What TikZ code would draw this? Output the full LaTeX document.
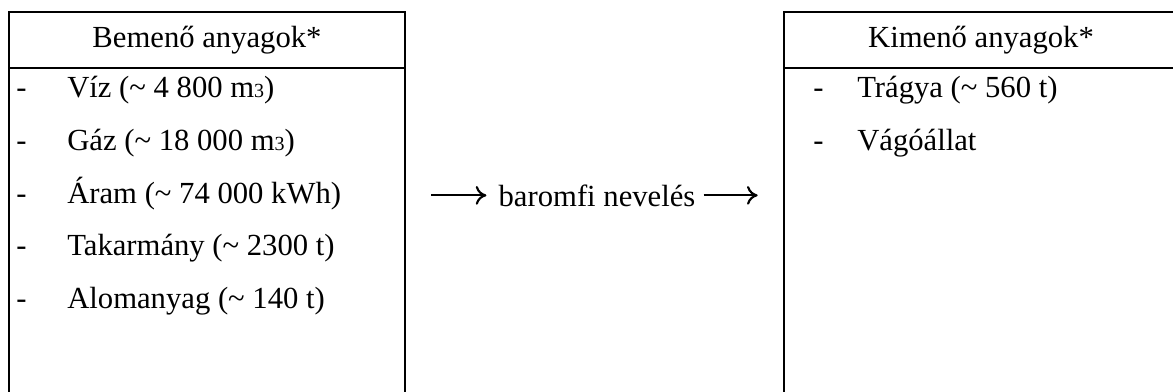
\documentclass[tikz,border=0pt]{standalone}
\usepackage{fontspec}
\setmainfont{Liberation Serif}
\usetikzlibrary{positioning,arrows.meta}
\newcommand\kicsi[1]{{\fontsize{15}{15}\selectfont #1}}
\tikzset{
  box/.style={draw,line width=1.5pt,inner sep=0pt},
  item/.style={anchor=base west,inner sep=0pt},
  flow/.style={-{To[length=8pt,width=14pt]},line width=1.6pt}
}
\begin{document}
\begin{tikzpicture}[x=0.75pt,y=-0.75pt,font=\fontsize{23}{27}\selectfont]
\useasboundingbox (0,0) rectangle (1173,392);
\clip (0,0) rectangle (1173,392);
% boxes
\node[box,minimum width=297pt,minimum height=306pt] (inbox) at (207,216) {};
\node[box,minimum width=304.5pt,minimum height=306pt] (outbox) at (987,216) {};
\draw[line width=1.5pt] (inbox.west |- 0,68) -- (inbox.east |- 0,68);
\draw[line width=1.5pt] (outbox.west |- 0,68) -- (outbox.east |- 0,68);
\node[anchor=base] (inhead) at (207,48) {Bemenő anyagok*};
\node[anchor=base] (outhead) at (981,48) {Kimenő anyagok*};
% items
\foreach \t [count=\i] in {{Víz (\textasciitilde{} 4 800 m\kicsi{3})},
  {Gáz (\textasciitilde{} 18 000 m\kicsi{3})},
  {Áram (\textasciitilde{} 74 000 kWh)},
  {Takarmány (\textasciitilde{} 2300 t)},
  {Alomanyag (\textasciitilde{} 140 t)}}{
  \node[item] (d\i) at (16,98+52.5*\i-52.5) {-};
  \node[item] (in\i) at (67,98+52.5*\i-52.5) {\t};
}
\foreach \t [count=\i] in {{Trágya (\textasciitilde{} 560 t)},{Vágóállat}}{
  \node[item] (e\i) at (813,98+52.5*\i-52.5) {-};
  \node[item] (out\i) at (857,98+52.5*\i-52.5) {\t};
}
% process
\node[anchor=base,inner sep=0pt] (proc) at (597,206) {baromfi nevelés};
\draw[flow,shorten <=19pt,shorten >=9pt] (inbox.east |- proc.west) -- (proc.west);
\draw[flow,shorten <=6pt,shorten >=19pt] (proc.east) -- (outbox.west |- proc.east);
\end{tikzpicture}
\end{document}
